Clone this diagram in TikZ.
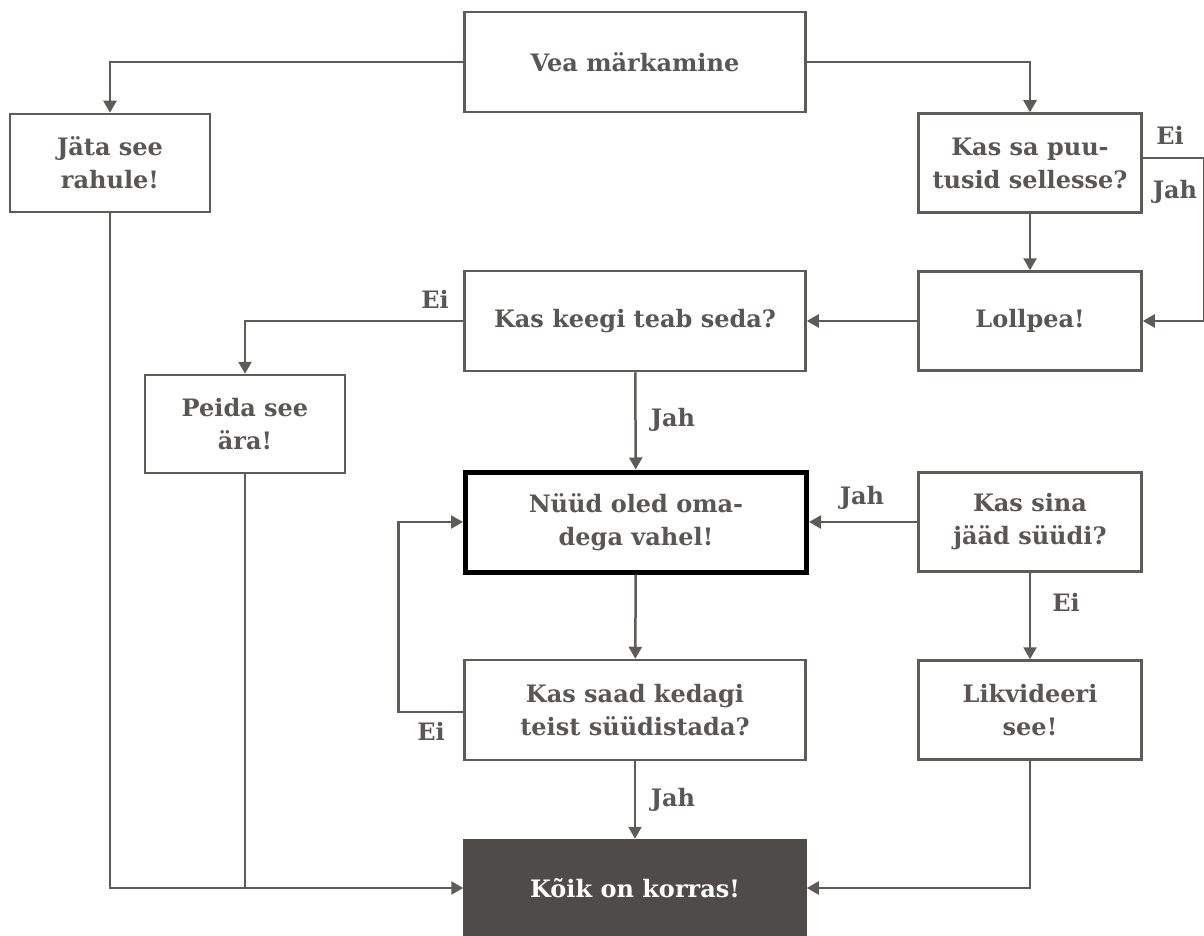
\documentclass[tikz,border=0pt]{standalone}
\usepackage{fontspec}
\setmainfont{DejaVu Serif}
\usetikzlibrary{arrows.meta}
\definecolor{linegray}{HTML}{5F5B59}
\definecolor{textgray}{HTML}{5A5655}
\definecolor{darkbox}{HTML}{4F4B48}
\begin{document}
\begin{tikzpicture}[x=1pt, y=-1pt,
	box/.style={draw=linegray, line width=2.5pt, text=textgray, align=center, inner sep=0pt,
		font=\bfseries\fontsize{24}{33}\selectfont},
	wide/.style={box, minimum width=341pt, minimum height=100pt},
	narrow/.style={box, minimum width=200pt, minimum height=98pt},
	side/.style={box, minimum width=223pt, minimum height=99pt},
	flow/.style={draw=linegray, line width=2.5pt, -{Triangle[width=13pt,length=12pt]}},
	plainline/.style={draw=linegray, line width=2.5pt},
	lbl/.style={text=textgray, inner sep=0pt, font=\bfseries\fontsize{24}{33}\selectfont}]
\useasboundingbox (0,0) rectangle (1204,936);
% boxes
\node[wide] (vea) at (635,62) {Vea märkamine};
\node[narrow] (jata) at (110,163) {Jäta see\\rahule!};
\node[side] (puutus) at (1030,163) {Kas sa puu-\\tusid sellesse?};
\node[side] (lollpea) at (1030,321) {Lollpea!};
\node[wide] (teab) at (635,321) {Kas keegi teab seda?};
\node[narrow] (peida) at (245,424) {Peida see\\ära!};
\node[wide, draw=black, line width=5pt] (vahel) at (636,522) {Nüüd oled oma-\\dega vahel!};
\node[side] (suudi) at (1030,522) {Kas sina\\jääd süüdi?};
\node[wide] (teist) at (635,710) {Kas saad kedagi\\teist süüdistada?};
\node[side] (likv) at (1030,710) {Likvideeri\\see!};
\node[wide, draw=darkbox, fill=darkbox, text=white, minimum height=96pt] (korras) at (635,888) {Kõik on korras!};
% labels
\node[lbl] (puutusEi) at (1170,135) {Ei};
\node[lbl] (puutusJah) at (1175,192) {Jah};
\node[lbl] (teabEi) at (435,299) {Ei};
\node[lbl] (teabJah) at (673,420) {Jah};
\node[lbl] (suudiJah) at (862,498) {Jah};
\node[lbl] (suudiEi) at (1066,602) {Ei};
\node[lbl] (teistEi) at (431,731) {Ei};
\node[lbl] (teistJah) at (673,800) {Jah};
% connectors
\draw[flow] (vea.west) -| (jata.north);
\draw[flow] (vea.east) -| (puutus.north);
\draw[flow] (puutus) -- (lollpea);
\draw[flow] ([yshift=5pt]puutus.east) -- ++(61,0) |- (lollpea.east);
\draw[flow] (lollpea) -- (teab);
\draw[flow] (teab.west) -| (peida.north);
\draw[flow] (teab) -- (vahel);
\draw[flow] (suudi) -- (vahel);
\draw[flow] (suudi) -- (likv);
\draw[flow] (vahel) -- (teist);
\draw[flow] ([yshift=-2pt]teist.west) -- ++(-65,0) |- (vahel.west);
\draw[flow] (teist) -- (korras);
\draw[flow] (jata.south) |- (korras.west);
\draw[plainline] (peida.south) -- (peida.south |- korras.west);
\draw[flow] (likv.south) |- (korras.east);
\end{tikzpicture}
\end{document}
